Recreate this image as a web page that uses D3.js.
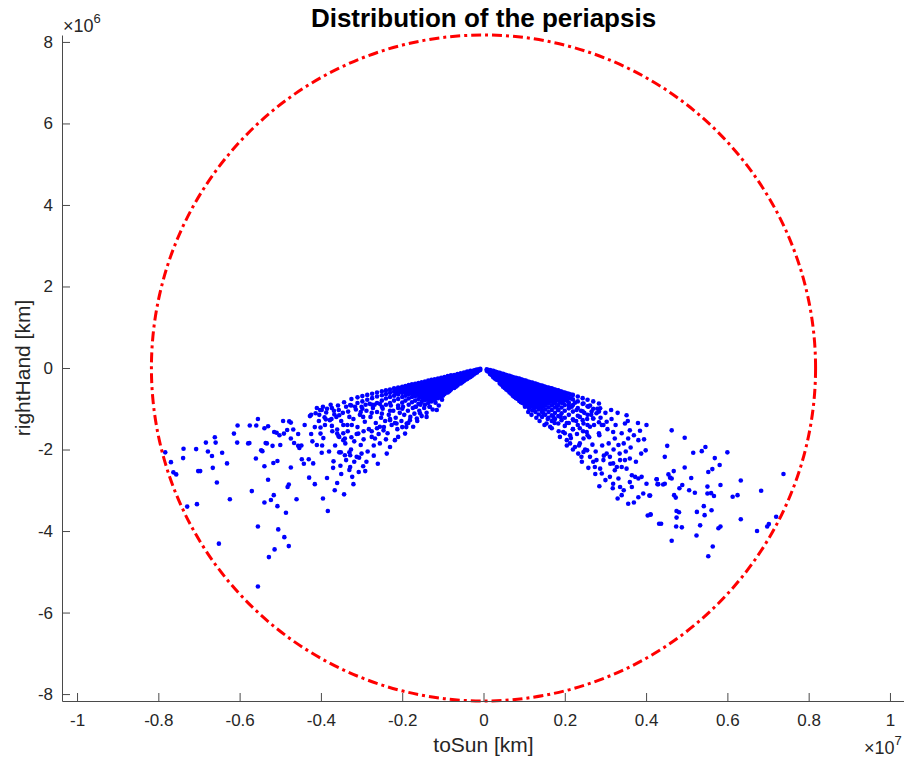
<!DOCTYPE html>
<html>
<head>
<meta charset="utf-8">
<script src="https://cdn.jsdelivr.net/npm/d3@7"></script>
<style>
  body { margin: 0; background: #fff; }
  svg text { font-family: "Liberation Sans", Arial, Helvetica, sans-serif; }
</style>
</head>
<body>
<svg id="chart"></svg>
<script>
// all positions in units of 1e6 km
const xTicks = [-10, -8, -6, -4, -2, 0, 2, 4, 6, 8, 10];
const xTickLabels = ['-1', '-0.8', '-0.6', '-0.4', '-0.2', '0', '0.2', '0.4', '0.6', '0.8', '1'];
const yTicks = [-8, -6, -4, -2, 0, 2, 4, 6, 8];
const yTickLabels = ['-8', '-6', '-4', '-2', '0', '2', '4', '6', '8'];
const boundaryRadius = 8.17;

// scattered periapsis points, left lobe
const leftScatter = [
  [-7.83,-2.07],[-7.69,-2.31],[-7.63,-2.56],[-7.56,-2.61],[-7.38,-1.98],[-7.39,-2.21],[-7.29,-3.40],[-7.07,-1.99],
  [-7.05,-3.34],[-7.02,-2.53],[-6.97,-2.53],[-6.83,-1.83],[-6.78,-2.05],[-6.68,-2.16],[-6.66,-2.45],[-6.61,-1.70],
  [-6.59,-1.83],[-6.56,-2.81],[-6.51,-4.31],[-6.43,-2.08],[-6.31,-2.34],[-6.24,-3.22],[-6.14,-1.61],[-6.06,-1.83],
  [-6.05,-1.41],[-5.79,-1.85],[-5.76,-1.84],[-5.75,-1.41],[-5.70,-3.02],[-5.60,-2.22],[-5.59,-1.41],[-5.55,-1.25],
  [-5.55,-3.89],[-5.55,-5.36],[-5.47,-2.02],[-5.44,-2.04],[-5.39,-1.48],[-5.39,-2.41],[-5.39,-3.30],[-5.36,-1.84],
  [-5.33,-1.85],[-5.30,-2.74],[-5.30,-1.43],[-5.28,-4.64],[-5.23,-3.24],[-5.19,-1.91],[-5.17,-2.33],[-5.16,-3.12],
  [-5.15,-1.57],[-5.09,-1.59],[-5.14,-4.45],[-5.07,-2.28],[-5.07,-3.39],[-5.05,-3.96],[-5.02,-1.65],[-5.00,-1.89],
  [-4.93,-1.30],[-4.91,-1.61],[-4.90,-4.15],[-4.86,-3.55],[-4.83,-1.52],[-4.82,-2.92],[-4.79,-2.86],[-4.79,-4.37],
  [-4.78,-1.31],[-4.74,-1.34],[-4.74,-2.44],[-4.74,-1.73],[-4.68,-1.51],[-4.66,-1.84],[-4.60,-3.22],[-4.56,-1.91],
  [-4.53,-1.96],[-4.48,-1.90],[-4.56,-1.62],[-4.47,-2.24],[-4.42,-2.35],[-4.40,-1.40],[-4.30,-2.24],[-4.29,-2.69],
  [-4.27,-1.18],[-4.24,-1.15],[-4.24,-1.62],[-4.21,-1.80],[-4.19,-2.34],[-4.15,-2.85],[-4.13,-1.11],[-4.10,-1.89],
  [-4.04,-1.15],[-4.02,-1.03],[-3.98,-1.03],[-4.01,-1.61],[-4.01,-1.46],[-3.98,-2.08],[-3.97,-1.90],[-3.94,-1.72],
  [-3.91,-1.21],[-3.88,-1.26],[-3.87,-1.09],[-3.83,-3.51],[-3.78,-1.28],[-3.74,-1.25],[-3.73,-0.98],[-3.73,-1.42],
  [-3.69,-2.29],[-3.67,-1.14],[-3.60,-2.82],[-3.60,-1.61],[-3.57,-1.67],[-3.56,-1.03],[-3.55,-2.07],[-3.55,-1.16],
  [-3.43,-0.84],[-3.45,-1.40],[-3.60,-1.51],[-3.55,-1.69],[-3.41,-1.73],[-3.45,-1.77],[-3.51,-2.07],[-3.41,-2.14],
  [-3.30,-2.07],[-3.28,-2.14],[-3.38,-2.26],[-3.28,-2.43],[-3.12,-2.18],[-3.43,-3.10],[-3.23,-2.67],[-3.07,-2.55],
  [-2.96,-2.41],[-2.91,-2.53],[-3.02,-1.89],[-3.24,-1.40],[-3.08,-1.61],[-3.33,-1.07],[-3.28,-0.91],[-3.16,-0.95],
  [-2.30,-1.28],[-2.14,-1.36],[-1.89,-1.36],[-1.73,-1.44],[-1.56,-1.11],[-1.32,-0.95],[-1.15,-1.03],[-2.38,-2.10],
  [-2.30,-1.94],[-2.18,-1.77],[-2.10,-1.69],[-1.93,-1.61],[-2.67,-1.73],[-2.75,-1.69],[-2.55,-1.44],[-2.46,-1.53],
  [-2.96,-1.20],[-1.81,-1.28],[-1.64,-1.24],[-1.40,-1.20]
];

// denser middle part of the left lobe
const leftMid = [
  [-1.02,-0.78],[-1.10,-0.92],[-1.18,-0.85],[-1.25,-1.02],[-1.33,-0.95],[-1.40,-1.10],[-1.46,-0.98],[-1.52,-1.18],
  [-1.58,-1.05],[-1.63,-1.30],[-1.70,-1.12],[-1.74,-0.98],[-1.80,-1.20],[-1.86,-1.05],[-1.90,-1.45],[-1.95,-1.15],
  [-2.02,-1.30],[-2.06,-1.10],[-2.12,-1.50],[-2.16,-1.22],[-2.22,-1.05],[-2.26,-1.40],[-2.33,-1.15],[-2.36,-1.60],
  [-2.42,-1.30],[-2.48,-1.00],[-2.52,-1.22],[-2.58,-1.62],[-2.62,-1.08],[-2.65,-1.35],[-2.70,-1.90],[-2.72,-0.98],
  [-2.78,-1.20],[-2.82,-1.50],[-2.85,-2.05],[-2.88,-1.05],[-2.92,-1.32],[-2.95,-1.75],[-3.00,-0.95],[-3.04,-1.15],
  [-3.06,-2.20],[-3.10,-1.45],[-3.14,-1.02],[-3.18,-1.80],[-3.20,-1.25],[-3.26,-2.00],[-3.30,-1.20],[-3.34,-1.55],
  [-3.38,-0.95],[-3.40,-1.85],[-3.46,-1.10],[-3.50,-1.30],[-3.52,-2.40],[-3.58,-0.92],[-3.62,-1.20],[-3.65,-1.90],
  [-3.68,-1.05],[-3.72,-1.55],[-3.76,-0.90],[-3.80,-2.05],[-3.85,-1.00],[-3.90,-1.40],[-3.95,-0.95],[-4.05,-1.30],
  [-4.10,-0.98],[-4.15,-1.45],[-1.55,-0.90],[-1.66,-0.95],[-1.98,-0.95],[-2.10,-0.98],[-2.28,-0.92],[-2.40,-0.90],
  [-2.55,-0.88],[-2.68,-0.90],[-2.80,-0.88],[-2.90,-0.90],[-3.02,-1.08],[-2.75,-1.10],[-2.50,-1.12],[-2.30,-1.25],
  [-2.18,-1.35],[-2.00,-1.45],[-1.85,-1.35],[-2.45,-1.45],[-2.62,-1.48],[-2.40,-1.75],[-2.55,-1.85],[-2.75,-1.55],
  [-2.95,-1.55],[-3.12,-1.62],[-3.25,-1.70],[-3.35,-1.40],[-3.45,-1.60],[-3.18,-2.30],[-3.00,-2.10],[-2.88,-2.30],
  [-2.70,-2.15],[-3.30,-2.50],[-3.50,-2.60],[-3.70,-2.45],[-3.85,-2.70],[-3.66,-3.00],[-3.95,-3.20],[-3.20,-2.85],
  [-2.60,-2.35]
];

// scattered periapsis points, right lobe
const rightScatter = [
  [3.52,-1.16],[3.48,-1.36],[3.60,-1.53],[3.56,-1.73],[3.85,-1.54],[4.01,-1.40],[3.99,-2.02],[3.81,-1.77],
  [3.32,-1.89],[3.23,-1.73],[3.19,-1.57],[3.14,-1.03],[3.03,-1.32],[2.91,-1.40],[2.87,-0.99],[2.78,-1.11],
  [2.70,-1.24],[2.62,-1.44],[2.54,-1.57],[2.46,-1.73],[2.37,-1.85],[2.46,-2.06],[2.55,-2.02],[2.41,-2.18],
  [2.33,-2.10],[2.62,-2.18],[2.78,-2.26],[2.87,-2.47],[2.95,-2.26],[3.03,-2.10],[3.11,-2.18],[3.19,-2.34],
  [3.28,-2.43],[3.36,-2.26],[3.23,-2.51],[3.11,-2.67],[3.32,-2.71],[3.40,-2.43],[3.48,-2.26],[3.60,-2.22],
  [3.52,-2.47],[3.65,-2.63],[3.73,-2.67],[3.81,-2.71],[3.89,-2.67],[4.01,-2.84],[3.93,-3.08],[3.81,-3.17],
  [3.65,-2.92],[3.56,-3.33],[3.40,-3.12],[3.36,-2.92],[3.19,-2.84],[2.91,-2.59],[2.74,-2.43],
  [4.26,-2.73],[4.28,-2.85],[4.08,-3.13],[4.04,-3.62],[4.11,-3.59],[4.32,-3.82],[3.60,-2.80],[2.70,-2.30],
  [4.63,-1.53],[4.95,-1.71],[4.52,-1.91],[4.46,-2.18],[5.16,-2.08],[5.37,-2.04],[5.46,-1.94],[6.00,-2.07],
  [5.69,-2.21],[5.81,-2.38],[5.63,-2.48],[5.53,-2.55],[4.95,-2.44],[4.68,-2.53],[4.55,-2.61],[4.59,-2.69],
  [4.63,-2.71],[4.26,-2.73],[4.30,-2.85],[4.42,-2.86],[4.46,-2.84],[5.11,-2.70],[4.89,-2.87],[4.82,-2.95],
  [5.06,-3.00],[5.20,-3.06],[5.51,-2.91],[5.60,-3.07],[5.67,-3.14],[5.83,-2.87],[5.51,-3.08],[6.33,-2.76],
  [6.13,-3.16],[6.25,-3.12],[6.83,-3.01],[7.38,-2.60],[4.10,-3.13],[4.69,-3.12],[4.73,-3.18],[4.75,-3.51],
  [4.81,-3.54],[4.75,-3.67],[5.25,-3.53],[5.44,-3.61],[5.42,-3.39],[5.61,-3.49],[4.11,-3.60],[4.37,-3.82],
  [4.74,-3.89],[4.88,-3.91],[5.33,-3.86],[5.78,-3.93],[5.83,-3.89],[6.33,-3.71],[5.24,-4.11],[4.63,-4.24],
  [5.64,-4.38],[5.53,-4.62],[6.73,-4.00],[6.98,-3.89],[7.02,-3.83],[7.20,-3.65],
  [1.39,-0.95],[1.47,-1.11],[1.55,-1.36],[1.64,-1.44],[1.72,-1.20],[1.84,-1.03],[1.88,-1.69],[1.96,-1.57],
  [2.05,-1.77],[2.13,-1.65],[2.21,-1.28],[2.29,-1.03],[2.37,-1.20],[2.17,-0.95],[2.05,-0.79],[1.92,-0.71],
  [1.80,-0.62],[1.72,-0.58],[2.46,-0.87],[2.58,-0.95],[2.66,-1.07],[2.46,-1.36],[2.37,-1.48],[2.25,-1.94],
  [2.13,-1.85]
];

// denser middle part of the right lobe
const rightMid = [
  [1.02,-0.95],[1.10,-1.08],[1.18,-1.15],[1.25,-0.98],[1.30,-1.22],[1.38,-1.30],[1.45,-1.05],[1.50,-1.40],
  [1.58,-1.25],[1.62,-0.80],[1.68,-1.48],[1.75,-1.35],[1.80,-0.95],[1.85,-1.55],[1.90,-1.20],[1.95,-0.85],
  [2.00,-1.60],[2.05,-1.35],[2.10,-0.92],[2.15,-1.72],[2.20,-1.50],[2.25,-0.85],[2.30,-1.62],[2.35,-1.90],
  [2.40,-1.05],[2.45,-1.55],[2.50,-2.00],[2.55,-1.25],[2.60,-1.70],[2.62,-0.92],[2.68,-1.88],[2.72,-1.40],
  [2.76,-2.05],[2.80,-1.00],[2.85,-1.65],[2.88,-1.22],[2.92,-1.90],[2.96,-2.15],[3.00,-1.10],[3.05,-1.50],
  [3.08,-1.85],[3.12,-2.35],[3.15,-1.25],[3.20,-2.00],[3.25,-1.40],[3.30,-1.10],[3.35,-2.10],[3.40,-1.60],
  [3.45,-1.85],[3.50,-2.05],[3.55,-1.30],[3.62,-1.95],[3.70,-1.65],[3.75,-2.30],[3.80,-1.35],[3.88,-2.10],
  [3.95,-1.75],[1.55,-0.70],[1.70,-0.78],[2.28,-1.30],[2.48,-1.10],[2.65,-1.15],[2.95,-1.40],[2.42,-2.30],
  [2.58,-2.45],[2.75,-2.60],[3.00,-2.75],[2.85,-2.90],[3.18,-2.95],[3.45,-3.00],[3.30,-3.20],[3.70,-3.30],
  [2.20,-2.00],[2.05,-1.90]
];

// dense cores near the origin: [x, [y values at that x]]
const leftCore = [
  [-0.08,[-0.02,-0.05]],[-0.16,[-0.04,-0.08,-0.11]],[-0.24,[-0.06,-0.11,-0.16]],
  [-0.32,[-0.07,-0.12,-0.17,-0.22]],[-0.40,[-0.09,-0.15,-0.21,-0.27]],[-0.48,[-0.11,-0.18,-0.25,-0.32]],
  [-0.56,[-0.13,-0.20,-0.27,-0.34,-0.38]],[-0.64,[-0.15,-0.22,-0.29,-0.36,-0.43]],
  [-0.72,[-0.17,-0.24,-0.31,-0.38,-0.45,-0.49]],[-0.80,[-0.18,-0.25,-0.32,-0.39,-0.46,-0.53]],
  [-0.88,[-0.20,-0.27,-0.34,-0.41,-0.48,-0.55,-0.60]],[-0.96,[-0.22,-0.29,-0.36,-0.43,-0.50,-0.57,-0.64]],
  [-1.04,[-0.24,-0.31,-0.38,-0.45,-0.52,-0.59,-0.66,-0.70]],[-1.12,[-0.26,-0.33,-0.40,-0.47,-0.54,-0.61,-0.68,-0.74]],
  [-1.20,[-0.28,-0.35,-0.42,-0.49,-0.56,-0.63,-0.70,-0.78]],[-1.28,[-0.29,-0.36,-0.43,-0.50,-0.57,-0.64,-0.72,-0.82]],
  [-1.36,[-0.31,-0.38,-0.45,-0.52,-0.59,-0.67,-0.76,-0.86]],[-1.44,[-0.33,-0.40,-0.47,-0.54,-0.61,-0.69,-0.79,-0.90]],
  [-1.52,[-0.35,-0.42,-0.49,-0.56,-0.64,-0.73,-0.83]],[-1.60,[-0.37,-0.44,-0.51,-0.58,-0.66,-0.76,-0.88]],
  [-1.68,[-0.39,-0.46,-0.53,-0.60,-0.69,-0.80,-0.95]],[-1.76,[-0.40,-0.47,-0.54,-0.62,-0.71,-0.84]],
  [-1.84,[-0.42,-0.49,-0.57,-0.65,-0.75,-0.90]],[-1.92,[-0.44,-0.51,-0.59,-0.68,-0.80]],
  [-2.00,[-0.46,-0.53,-0.61,-0.71,-0.85,-1.00]],[-2.10,[-0.48,-0.56,-0.65,-0.76,-0.92]],
  [-2.20,[-0.50,-0.58,-0.68,-0.80]],[-2.30,[-0.53,-0.61,-0.71,-0.86,-1.05]],[-2.40,[-0.55,-0.64,-0.75]],
  [-2.50,[-0.57,-0.67,-0.80,-0.95]],[-2.62,[-0.60,-0.70,-0.86]],[-2.74,[-0.63,-0.74,-0.90]],
  [-2.86,[-0.66,-0.78]],[-2.98,[-0.69,-0.82,-1.00]],[-3.10,[-0.72,-0.86]],[-3.25,[-0.76,-0.92]]
];

// in-between columns so the left core reads as solid
const leftCoreFill = [
  [-0.12,[-0.04,-0.07]],[-0.20,[-0.05,-0.09,-0.13]],[-0.28,[-0.09,-0.14,-0.19]],
  [-0.36,[-0.10,-0.15,-0.20,-0.24]],[-0.44,[-0.12,-0.18,-0.24,-0.29]],[-0.52,[-0.15,-0.22,-0.29,-0.35]],
  [-0.60,[-0.17,-0.24,-0.31,-0.38]],[-0.68,[-0.19,-0.26,-0.33,-0.40,-0.46]],
  [-0.76,[-0.21,-0.28,-0.35,-0.42,-0.49]],[-0.84,[-0.23,-0.30,-0.37,-0.44,-0.51,-0.57]],
  [-0.92,[-0.25,-0.32,-0.39,-0.46,-0.53,-0.60]],[-1.00,[-0.27,-0.34,-0.41,-0.48,-0.55,-0.62,-0.68]],
  [-1.08,[-0.29,-0.36,-0.43,-0.50,-0.57,-0.64,-0.71]],[-1.16,[-0.31,-0.38,-0.45,-0.52,-0.59,-0.66,-0.73]],
  [-1.24,[-0.32,-0.39,-0.46,-0.53,-0.60,-0.68,-0.77]],[-1.32,[-0.34,-0.41,-0.48,-0.55,-0.62,-0.71,-0.80]],
  [-1.40,[-0.36,-0.43,-0.50,-0.57,-0.64,-0.73]],[-1.48,[-0.38,-0.45,-0.52,-0.60,-0.68,-0.78]],
  [-1.56,[-0.40,-0.47,-0.54,-0.62,-0.70]],[-1.64,[-0.42,-0.49,-0.56,-0.64]],[-1.72,[-0.43,-0.50,-0.58,-0.66]],
  [-1.80,[-0.45,-0.52,-0.60]],[-1.88,[-0.46,-0.54,-0.62]],[-1.96,[-0.48,-0.56]],[-2.05,[-0.50,-0.58]],
  [-2.15,[-0.52,-0.61]]
];

const rightCore = [
  [0.08,[-0.03,-0.07]],[0.16,[-0.05,-0.10,-0.15]],[0.24,[-0.07,-0.13,-0.19,-0.23]],
  [0.32,[-0.10,-0.16,-0.22,-0.29]],[0.40,[-0.12,-0.19,-0.26,-0.33,-0.38]],
  [0.48,[-0.14,-0.21,-0.28,-0.35,-0.42,-0.46]],[0.56,[-0.17,-0.24,-0.31,-0.38,-0.45,-0.53]],
  [0.64,[-0.19,-0.26,-0.33,-0.40,-0.47,-0.54,-0.60]],[0.72,[-0.22,-0.29,-0.36,-0.43,-0.50,-0.57,-0.64,-0.68]],
  [0.80,[-0.24,-0.31,-0.38,-0.45,-0.52,-0.59,-0.66,-0.74]],
  [0.88,[-0.26,-0.33,-0.40,-0.47,-0.54,-0.61,-0.68,-0.75,-0.81]],
  [0.96,[-0.29,-0.36,-0.43,-0.50,-0.57,-0.64,-0.71,-0.78,-0.86]],
  [1.04,[-0.31,-0.38,-0.45,-0.52,-0.59,-0.66,-0.73,-0.80,-0.87,-0.93]],
  [1.12,[-0.34,-0.41,-0.48,-0.55,-0.62,-0.69,-0.76,-0.83,-0.90,-0.99]],
  [1.20,[-0.36,-0.43,-0.50,-0.57,-0.64,-0.71,-0.78,-0.85,-0.93,-1.04]],
  [1.28,[-0.38,-0.45,-0.52,-0.59,-0.66,-0.73,-0.80,-0.88,-0.97,-1.08]],
  [1.36,[-0.41,-0.48,-0.55,-0.62,-0.69,-0.76,-0.84,-0.92,-1.02,-1.14]],
  [1.44,[-0.43,-0.50,-0.57,-0.64,-0.71,-0.79,-0.87,-0.96,-1.08,-1.20]],
  [1.52,[-0.46,-0.53,-0.60,-0.67,-0.75,-0.83,-0.92,-1.02,-1.15]],
  [1.60,[-0.48,-0.55,-0.62,-0.70,-0.78,-0.87,-0.97,-1.08,-1.22]],
  [1.68,[-0.50,-0.57,-0.65,-0.73,-0.82,-0.92,-1.03,-1.16,-1.30]],
  [1.76,[-0.53,-0.60,-0.68,-0.76,-0.86,-0.97,-1.10,-1.25]],
  [1.84,[-0.55,-0.63,-0.71,-0.80,-0.91,-1.03,-1.18,-1.36]],
  [1.92,[-0.58,-0.66,-0.75,-0.85,-0.97,-1.11,-1.28]],
  [2.00,[-0.60,-0.69,-0.79,-0.91,-1.05,-1.22,-1.42]],
  [2.10,[-0.63,-0.73,-0.85,-0.99,-1.15,-1.35]],[2.20,[-0.66,-0.77,-0.91,-1.07,-1.26,-1.50]],
  [2.32,[-0.70,-0.82,-0.98,-1.17,-1.40]],[2.44,[-0.74,-0.88,-1.06,-1.28]],
  [2.56,[-0.78,-0.94,-1.15,-1.40,-1.65]],[2.70,[-0.82,-1.00,-1.24]],[2.84,[-0.87,-1.07,-1.33,-1.60]]
];

// in-between columns so the right core reads as solid
const rightCoreFill = [
  [0.12,[-0.05,-0.09]],[0.20,[-0.07,-0.12,-0.17]],[0.28,[-0.09,-0.15,-0.21,-0.26]],
  [0.36,[-0.12,-0.18,-0.24,-0.30]],[0.44,[-0.14,-0.21,-0.28,-0.35,-0.41]],
  [0.52,[-0.16,-0.23,-0.30,-0.37,-0.44,-0.49]],[0.60,[-0.19,-0.26,-0.33,-0.40,-0.47,-0.55]],
  [0.68,[-0.21,-0.28,-0.35,-0.42,-0.49,-0.56,-0.63]],[0.76,[-0.24,-0.31,-0.38,-0.45,-0.52,-0.59,-0.66,-0.71]],
  [0.84,[-0.26,-0.33,-0.40,-0.47,-0.54,-0.61,-0.68,-0.76]],
  [0.92,[-0.28,-0.35,-0.42,-0.49,-0.56,-0.63,-0.70,-0.78,-0.84]],
  [1.00,[-0.31,-0.38,-0.45,-0.52,-0.59,-0.66,-0.73,-0.80,-0.88]],
  [1.08,[-0.33,-0.40,-0.47,-0.54,-0.61,-0.68,-0.75,-0.82,-0.90]],
  [1.16,[-0.36,-0.43,-0.50,-0.57,-0.64,-0.71,-0.78,-0.86,-0.95]],
  [1.24,[-0.38,-0.45,-0.52,-0.59,-0.66,-0.73,-0.81,-0.90]],
  [1.32,[-0.40,-0.47,-0.54,-0.61,-0.68,-0.76,-0.84,-0.94]],
  [1.40,[-0.43,-0.50,-0.57,-0.64,-0.72,-0.80,-0.88]],[1.48,[-0.45,-0.52,-0.59,-0.66,-0.74,-0.83,-0.93]],
  [1.56,[-0.48,-0.55,-0.62,-0.70,-0.78,-0.87]],[1.64,[-0.50,-0.57,-0.64,-0.73,-0.82]],
  [1.72,[-0.52,-0.59,-0.67,-0.76,-0.86]],[1.80,[-0.55,-0.62,-0.70,-0.79]],[1.88,[-0.57,-0.65,-0.73,-0.83]],
  [1.96,[-0.60,-0.68,-0.76]],[2.05,[-0.62,-0.71,-0.80]],[2.15,[-0.65,-0.75]]
];

const points = leftScatter.concat(leftMid, rightScatter, rightMid);
[leftCore, leftCoreFill, rightCore, rightCoreFill].forEach(core =>
  core.forEach(([cx, ys]) => ys.forEach(cy => points.push([cx, cy]))));

const width = 904;
const height = 760;

const svg = d3.select('#chart')
  .attr('width', width)
  .attr('height', height);

const x = d3.scaleLinear().domain([-10.37, 10.37]).range([62, 905]);
const y = d3.scaleLinear().domain([-8.17, 8.17]).range([701, 35]);

const axisColor = '#4a4a4a';
const textColor = '#262626';

// dots
svg.append('g')
  .selectAll('circle')
  .data(points)
  .enter()
  .append('circle')
  .attr('cx', d => x(d[0]))
  .attr('cy', d => y(d[1]))
  .attr('r', 2.3)
  .style('fill', '#0000ff');

// boundary circle
svg.append('ellipse')
  .attr('cx', x(0))
  .attr('cy', y(0))
  .attr('rx', x(boundaryRadius) - x(0))
  .attr('ry', y(0) - y(boundaryRadius))
  .style('fill', 'none')
  .style('stroke', '#ff0000')
  .style('stroke-width', 3)
  .style('stroke-dasharray', '10,4,3,4');

// axes
const xAxis = svg.append('g')
  .attr('transform', `translate(0,${y(-8.17)})`)
  .call(d3.axisBottom(x)
    .tickValues(xTicks)
    .tickFormat((d, i) => xTickLabels[i])
    .tickSizeInner(-8)
    .tickSizeOuter(0)
    .tickPadding(13));

const yAxis = svg.append('g')
  .attr('transform', `translate(${x(-10.37)},0)`)
  .call(d3.axisLeft(y)
    .tickValues(yTicks)
    .tickFormat((d, i) => yTickLabels[i])
    .tickSizeInner(-8)
    .tickSizeOuter(0)
    .tickPadding(9));

[xAxis, yAxis].forEach(g => {
  g.select('.domain').style('stroke', axisColor);
  g.selectAll('.tick line').style('stroke', axisColor);
  g.selectAll('.tick text')
    .style('font-size', '17px')
    .style('fill', textColor)
    .style('font-family', '"Liberation Sans", Arial, sans-serif');
});

// exponent labels
const yExp = svg.append('text')
  .attr('x', 63)
  .attr('y', 32)
  .style('font-size', '18px')
  .style('fill', textColor);
yExp.append('tspan').text('\u00d710');
yExp.append('tspan').attr('dy', -9).style('font-size', '13px').text('6');

const xExp = svg.append('text')
  .attr('x', 864)
  .attr('y', 754)
  .style('font-size', '18px')
  .style('fill', textColor);
xExp.append('tspan').text('\u00d710');
xExp.append('tspan').attr('dy', -9).style('font-size', '13px').text('7');

// labels and title
svg.append('text')
  .attr('x', x(0))
  .attr('y', 752)
  .attr('text-anchor', 'middle')
  .style('font-size', '21px')
  .style('fill', textColor)
  .text('toSun [km]');

svg.append('text')
  .attr('transform', `translate(30,${y(0)}) rotate(-90)`)
  .attr('text-anchor', 'middle')
  .style('font-size', '21px')
  .style('fill', textColor)
  .text('rightHand [km]');

svg.append('text')
  .attr('x', x(0))
  .attr('y', 27)
  .attr('text-anchor', 'middle')
  .style('font-size', '26px')
  .style('font-weight', 'bold')
  .style('fill', '#000')
  .text('Distribution of the periapsis');
</script>
</body>
</html>
